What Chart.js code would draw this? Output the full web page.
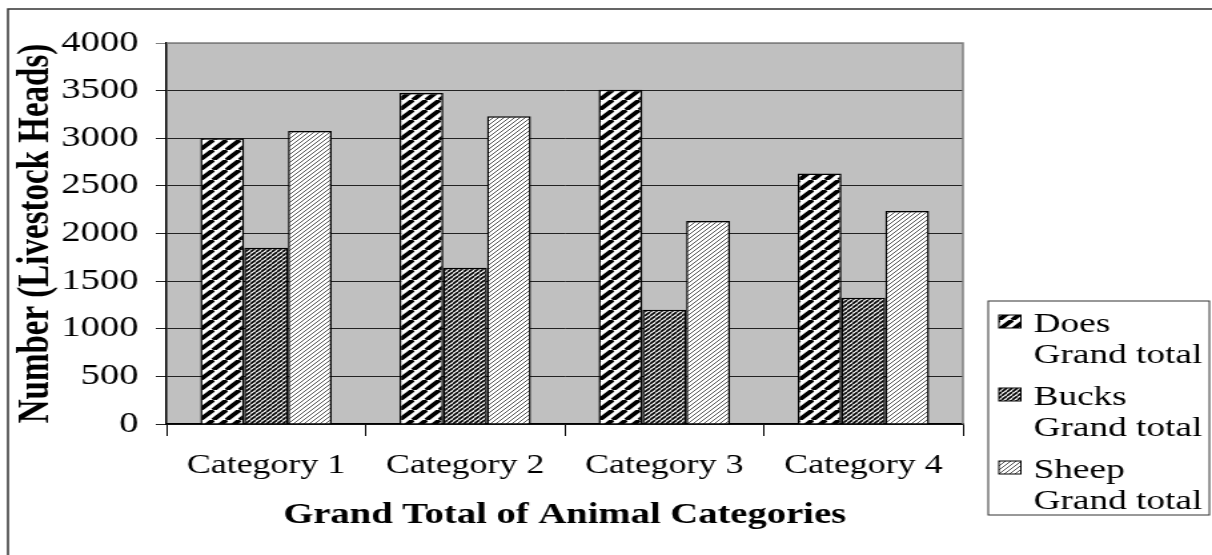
<!DOCTYPE html>
<html>
<head>
<meta charset="utf-8">
<script src="https://cdn.jsdelivr.net/npm/chart.js@4/dist/chart.umd.min.js"></script>
<style>
  html, body { margin: 0; padding: 0; background: #fff; overflow: hidden; }
  #chart { display: block; }
</style>
</head>
<body>
<canvas id="chart" width="910" height="555" style="width:1212px;height:555px"></canvas>
<script>
const categories = ["Category 1", "Category 2", "Category 3", "Category 4"];
const doesTotals = [3000, 3475, 3510, 2630];
const bucksTotals = [1850, 1640, 1200, 1325];
const sheepTotals = [3075, 3230, 2130, 2235];
const seriesNames = ["Does", "Bucks", "Sheep"];
const yMax = 4000;
const yStep = 500;

const serif = "'Liberation Serif', 'Times New Roman', serif";
const canvas = document.getElementById("chart");
const mainCtx = canvas.getContext("2d");

// diagonal hatch fills, like the old office chart patterns
function stripes(size, lineWidth, color) {
  const tile = document.createElement("canvas");
  tile.width = size;
  tile.height = size;
  const c = tile.getContext("2d");
  c.fillStyle = "#fff";
  c.fillRect(0, 0, size, size);
  c.strokeStyle = color;
  c.lineWidth = lineWidth;
  for (const off of [-size, 0, size]) {
    c.beginPath();
    c.moveTo(off, size);
    c.lineTo(off + size, 0);
    c.stroke();
  }
  return mainCtx.createPattern(tile, "repeat");
}

const doesFill = stripes(10, 3.8, "#000");
const bucksFill = stripes(4, 1.7, "#000");
const sheepFill = stripes(4, 1, "#555");

const frame = {
  id: "frame",
  beforeDraw(chart) {
    const { ctx, chartArea: a, width, height } = chart;
    ctx.save();
    ctx.fillStyle = "#fff";
    ctx.fillRect(0, 0, width, height);
    ctx.strokeStyle = "#333";
    ctx.lineWidth = 1.5;
    ctx.beginPath();
    ctx.moveTo(6, height);
    ctx.lineTo(6, 9);
    ctx.lineTo(width, 9);
    ctx.stroke();
    ctx.fillStyle = "#c0c0c0";
    ctx.fillRect(a.left, a.top, a.right - a.left, a.bottom - a.top);
    ctx.restore();
  },
  beforeDatasetsDraw(chart) {
    const { ctx, chartArea: a } = chart;
    ctx.save();
    ctx.strokeStyle = "#808080";
    ctx.lineWidth = 1.5;
    ctx.beginPath();
    ctx.moveTo(a.left, a.top);
    ctx.lineTo(a.right, a.top);
    ctx.lineTo(a.right, a.bottom);
    ctx.stroke();
    ctx.restore();
  }
};

const legendBox = {
  id: "legendBox",
  afterDraw(chart) {
    const { ctx } = chart;
    const x = 742, y = 301, w = 166, h = 214;
    ctx.save();
    ctx.fillStyle = "#fff";
    ctx.fillRect(x, y, w, h);
    ctx.strokeStyle = "#333";
    ctx.lineWidth = 1;
    ctx.strokeRect(x, y, w, h);
    ctx.font = "28px " + serif;
    ctx.textBaseline = "alphabetic";
    chart.data.datasets.forEach((ds, i) => {
      const base = y + 31 + i * 73;
      ctx.fillStyle = ds.backgroundColor;
      ctx.fillRect(x + 8, base - 17, 16.5, 13);
      ctx.strokeStyle = "#000";
      ctx.strokeRect(x + 8, base - 17, 16.5, 13);
      ctx.fillStyle = "#000";
      ctx.fillText(seriesNames[i], x + 34, base);
      ctx.fillText("Grand total", x + 34, base + 31);
    });
    ctx.restore();
  }
};

new Chart(canvas, {
  type: "bar",
  data: {
    labels: categories,
    datasets: [
      { label: "Does Grand total", data: doesTotals, backgroundColor: doesFill },
      { label: "Bucks Grand total", data: bucksTotals, backgroundColor: bucksFill },
      { label: "Sheep Grand total", data: sheepTotals, backgroundColor: sheepFill }
    ]
  },
  options: {
    responsive: false,
    animation: false,
    devicePixelRatio: 1,
    layout: { padding: { top: 43, right: 187, bottom: 0, left: 0 } },
    datasets: {
      bar: { borderColor: "#000", borderWidth: 1.5, categoryPercentage: 0.66, barPercentage: 1 }
    },
    plugins: {
      legend: { display: false },
      tooltip: { enabled: false }
    },
    scales: {
      x: {
        grid: { drawOnChartArea: false, tickLength: 12, color: "#000" },
        border: { color: "#000", width: 1.5 },
        ticks: { color: "#000", font: { family: serif, size: 27 }, padding: 14, maxRotation: 0 },
        title: {
          display: true,
          text: "Grand Total of Animal Categories",
          color: "#000",
          font: { family: serif, size: 29, weight: "bold" },
          padding: { top: 0, bottom: 22 }
        },
        afterFit(scale) { scale.height = 131; }
      },
      y: {
        min: 0,
        max: yMax,
        grid: {
          color: (c) => (c.tick && c.tick.value === yMax ? "#808080" : "#222"),
          tickLength: 8
        },
        border: { color: "#000", width: 1.5 },
        ticks: {
          stepSize: yStep,
          color: "#000",
          font: { family: serif, size: 29 },
          padding: 13,
          callback: (v) => String(v)
        },
        title: {
          display: true,
          text: "Number (Livestock Heads)",
          color: "#000",
          font: { family: serif, size: 33, weight: "bold", lineHeight: 1 },
          padding: { top: 11, bottom: 0 }
        },
        afterFit(scale) { scale.width = 125; }
      }
    }
  },
  plugins: [frame, legendBox]
});
</script>
</body>
</html>
